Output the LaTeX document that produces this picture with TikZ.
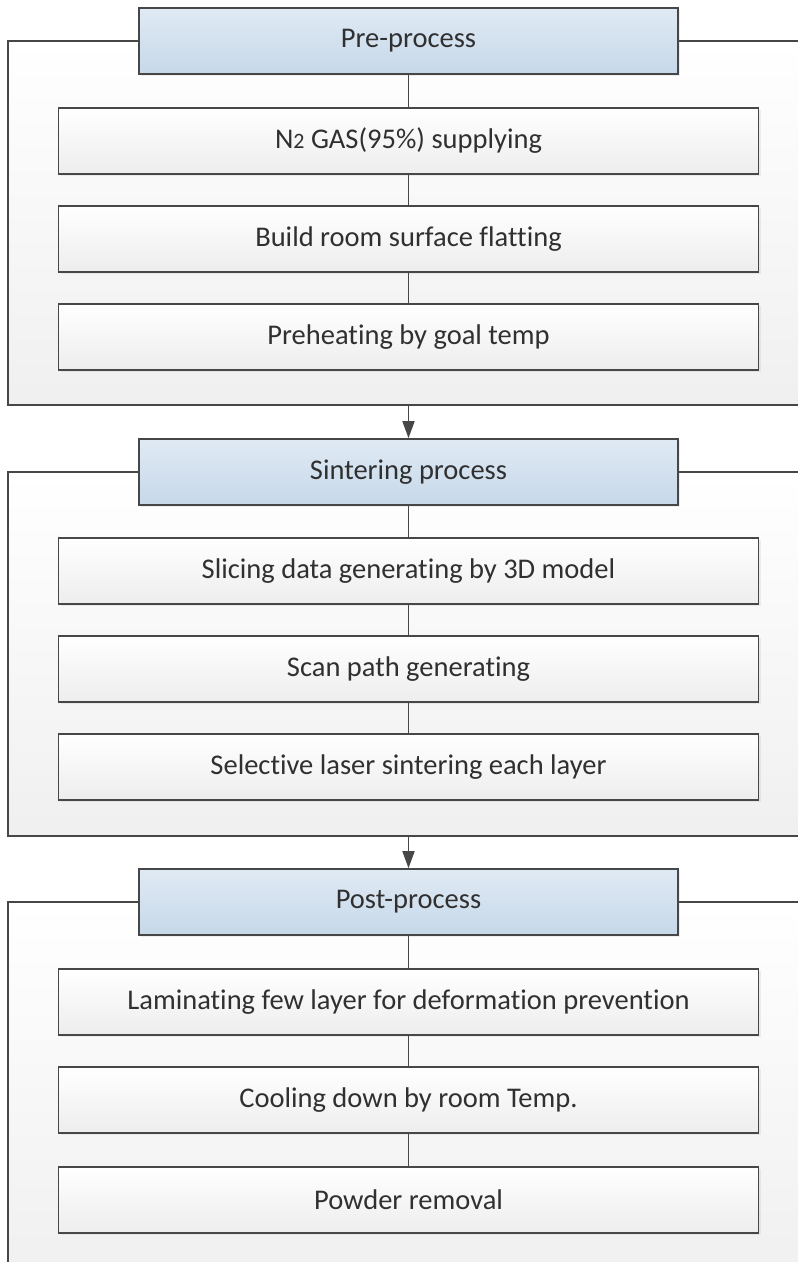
\documentclass[tikz,border=0pt]{standalone}
\usepackage{fontspec}
\setmainfont{Carlito}[Ligatures={NoCommon}]
\usetikzlibrary{arrows.meta,shadows}
\definecolor{edgegray}{HTML}{474747}
\definecolor{inkgray}{HTML}{303030}
\definecolor{headtop}{HTML}{E0EAF4}
\definecolor{headbot}{HTML}{C6D8E9}
\tikzset{
  groupframe/.style={draw=edgegray, line width=1.6pt, top color=white, bottom color=black!6},
  headbox/.style={draw=edgegray, line width=1.6pt, top color=headtop, bottom color=headbot,
    minimum width=539pt, minimum height=66pt, inner sep=0pt, text=inkgray,
    font=\fontsize{28.5}{32}\selectfont,
    drop shadow={shadow xshift=2pt, shadow yshift=-2pt, opacity=0.12}},
  stepbox/.style={draw=edgegray, line width=1.6pt, top color=white, bottom color=black!7,
    minimum width=700pt, minimum height=66pt, inner sep=0pt, text=inkgray,
    font=\fontsize{28.5}{32}\selectfont,
    drop shadow={shadow xshift=2pt, shadow yshift=-2pt, opacity=0.12}},
  link/.style={draw=edgegray, line width=1.6pt},
  flow/.style={draw=edgegray, line width=1.6pt, -{Triangle[length=17pt, width=12pt]}}
}
\newcommand{\subtwo}{{\fontsize{22}{22}\selectfont 2}}
\begin{document}
\begin{tikzpicture}[x=1pt, y=-1pt]
\useasboundingbox (0,0) rectangle (798,1262);
\clip (0,0) rectangle (798,1262);

% group frames (right side runs past the page edge)
\path[groupframe] (8,41) rectangle (830,405);
\path[groupframe] (8,472) rectangle (830,836);
\path[groupframe] (8,902) rectangle (830,1280);
\coordinate (f1) at (408.5,405);
\coordinate (f2) at (408.5,836);

% pre-process
\node[headbox] (h1) at (408.5,41) {Pre-process};
\node[stepbox] (s11) at (408.5,141) {N\subtwo{} GAS(95\%) supplying};
\node[stepbox] (s12) at (408.5,239) {Build room surface flatting};
\node[stepbox] (s13) at (408.5,337) {Preheating by goal temp};

% sintering
\node[headbox] (h2) at (408.5,472) {Sintering process};
\node[stepbox] (s21) at (408.5,571) {Slicing data generating by 3D model};
\node[stepbox] (s22) at (408.5,669) {Scan path generating};
\node[stepbox] (s23) at (408.5,767) {Selective laser sintering each layer};

% post-process
\node[headbox] (h3) at (408.5,902) {Post-process};
\node[stepbox] (s31) at (408.5,1002) {Laminating few layer for deformation prevention};
\node[stepbox] (s32) at (408.5,1100) {Cooling down by room Temp.};
\node[stepbox] (s33) at (408.5,1200) {Powder removal};

% connectors
\draw[link] (h1) -- (s11);
\draw[link] (s11) -- (s12);
\draw[link] (s12) -- (s13);
\draw[link] (h2) -- (s21);
\draw[link] (s21) -- (s22);
\draw[link] (s22) -- (s23);
\draw[link] (h3) -- (s31);
\draw[link] (s31) -- (s32);
\draw[link] (s32) -- (s33);
\draw[flow] (f1) -- (h2);
\draw[flow] (f2) -- (h3);
\end{tikzpicture}
\end{document}
